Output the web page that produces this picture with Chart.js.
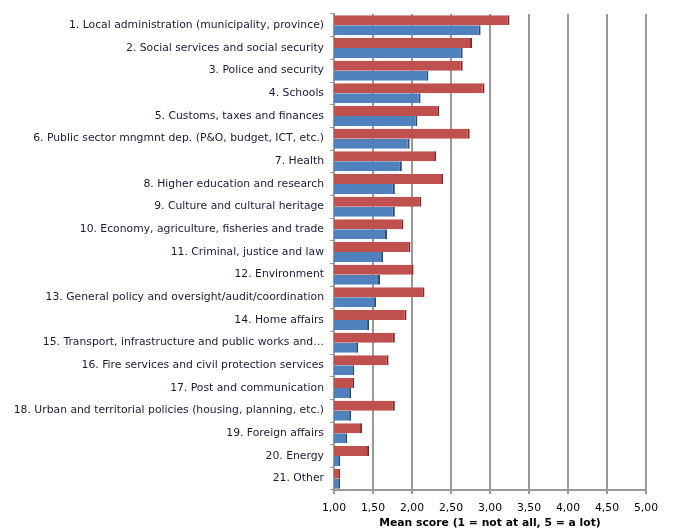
<!DOCTYPE html>
<html lang="en">
<head>
  <meta charset="UTF-8">
  <title>Mean score by policy area</title>
  <script src="https://cdn.jsdelivr.net/npm/chart.js"></script>
  <style>
    html, body { margin: 0; padding: 0; background: #fff; }
    canvas { display: block; }
  </style>
</head>
<body>
  <canvas id="scoreChart" width="676" height="531"></canvas>
  <script>
    const categories = [
      '1. Local administration (municipality, province)',
      '2. Social services and social security',
      '3. Police and security',
      '4. Schools',
      '5. Customs, taxes and finances',
      '6. Public sector mngmnt dep. (P&O, budget, ICT, etc.)',
      '7. Health',
      '8. Higher education and research',
      '9. Culture and cultural heritage',
      '10. Economy, agriculture, fisheries and trade',
      '11. Criminal, justice and law',
      '12. Environment',
      '13. General policy and oversight/audit/coordination',
      '14. Home affairs',
      '15. Transport, infrastructure and public works and\u2026',
      '16. Fire services and civil protection services',
      '17. Post and communication',
      '18. Urban and territorial policies (housing, planning, etc.)',
      '19. Foreign affairs',
      '20. Energy',
      '21. Other'
    ];
    const redValues = [3.25, 2.77, 2.65, 2.93, 2.35, 2.74, 2.31, 2.40, 2.12, 1.89, 1.98,
                       2.02, 2.16, 1.93, 1.78, 1.70, 1.26, 1.78, 1.36, 1.45, 1.08];
    const blueValues = [2.88, 2.65, 2.21, 2.11, 2.07, 1.97, 1.87, 1.78, 1.78, 1.68, 1.63,
                        1.59, 1.54, 1.45, 1.31, 1.26, 1.22, 1.22, 1.17, 1.08, 1.08];
    const xTicks = [1, 1.5, 2, 2.5, 3, 3.5, 4, 4.5, 5];

    const font = { family: '"DejaVu Sans", sans-serif', size: 10.8 };

    new Chart(document.getElementById('scoreChart'), {
      type: 'bar',
      data: {
        labels: categories,
        datasets: [
          {
            label: 'Red',
            data: redValues,
            backgroundColor: '#C0504D',
            borderColor: '#7F2A28',
            borderWidth: { right: 2, top: 0, bottom: 0, left: 0 },
            borderSkipped: false,
            categoryPercentage: 0.88,
            barPercentage: 1.0
          },
          {
            label: 'Blue',
            data: blueValues,
            backgroundColor: '#4F81BD',
            borderColor: '#2C4D75',
            borderWidth: { right: 2, top: 0, bottom: 0, left: 0 },
            borderSkipped: false,
            categoryPercentage: 0.88,
            barPercentage: 1.0
          }
        ]
      },
      options: {
        indexAxis: 'y',
        responsive: false,
        animation: false,
        layout: { padding: { top: 14, right: 30, bottom: 0, left: 0 } },
        plugins: { legend: { display: false }, tooltip: { enabled: false } },
        scales: {
          x: {
            min: 1,
            max: 5,
            afterBuildTicks: (axis) => { axis.ticks = xTicks.map(v => ({ value: v })); },
            afterFit: (axis) => { axis.height = 41; },
            ticks: {
              color: '#000',
              font: font,
              padding: 8,
              maxRotation: 0,
              callback: (v) => Number(v).toFixed(2).replace('.', ',')
            },
            grid: { color: '#999', lineWidth: 2, tickLength: 4, drawTicks: true },
            border: { color: '#999', width: 2 },
            title: {
              display: true,
              text: 'Mean score (1 = not at all, 5 = a lot)',
              color: '#000',
              font: { family: font.family, size: 10.8, weight: 'bold' },
              padding: { top: 0, bottom: 1 }
            }
          },
          y: {
            afterFit: (axis) => { axis.width = 334; },
            ticks: { color: '#1a1a3a', font: font, padding: 6, autoSkip: false },
            grid: { drawOnChartArea: false, drawTicks: true, tickLength: 4, color: '#999', offset: true },
            border: { color: '#999', width: 2 }
          }
        }
      }
    });
  </script>
</body>
</html>
